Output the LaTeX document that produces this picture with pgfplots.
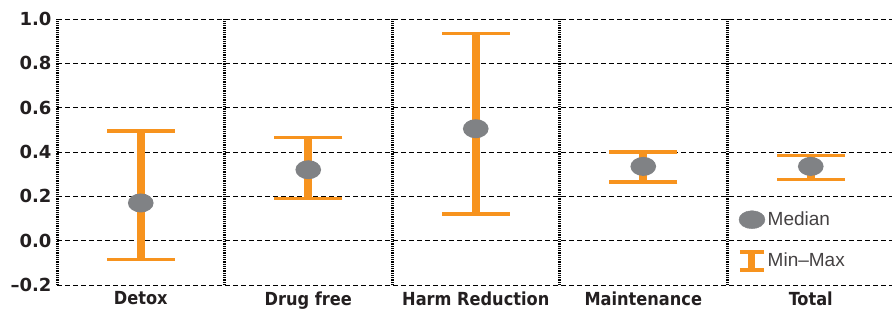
\documentclass[border=0pt]{standalone}
\usepackage{pgfplots}
\pgfplotsset{compat=1.18}
\usepackage{pgfplotstable}
\usepackage{fontspec}
\setmainfont{Liberation Sans}
\newfontfamily\tickfont{DejaVu Sans}
\newfontfamily\catfont{DejaVu Sans Condensed}
\definecolor{myorange}{HTML}{F7931E}
\definecolor{mygray}{HTML}{808285}
\definecolor{mytext}{HTML}{231F20}
\pgfdeclareplotmark{ellipse}{%
  \pgfpathellipse{\pgfpointorigin}{\pgfqpoint{1.35\pgfplotmarksize}{0pt}}{\pgfqpoint{0pt}{\pgfplotmarksize}}%
  \pgfusepathqfill}
\pgfplotstableread{
x med min max
0 0.170 -0.085 0.495
1 0.320 0.190 0.465
2 0.505 0.120 0.935
3 0.335 0.265 0.400
4 0.335 0.275 0.385
}\datatab
\begin{document}
\begin{tikzpicture}
\begin{axis}[
  scale only axis,
  width=835pt, height=266pt,
  xmin=-0.5, xmax=4.485,
  ymin=-0.2, ymax=1.0,
  axis line style={draw=none},
  xtick={0,1,2,3,4},
  xticklabels={Detox, Drug free, Harm Reduction, Maintenance, Total},
  major tick length=0pt,
  minor tick length=0pt,
  minor xtick={-0.5,0.5,1.5,2.5,3.5},
  xminorgrids=true,
  minor x grid style={black, line width=3pt, dash pattern=on 1pt off 0.8pt},
  ytick={-0.2,0,0.2,0.4,0.6,0.8,1.0},
  yticklabels={–0.2,0.0,0.2,0.4,0.6,0.8,1.0},
  ymajorgrids=true,
  major y grid style={black, line width=0.9pt, dash pattern=on 4.5pt off 3.5pt},
  xticklabel style={font=\catfont\bfseries\fontsize{18}{18}\selectfont, text=mytext, anchor=north, yshift=-3pt},
  yticklabel style={font=\tickfont\bfseries\fontsize{18}{18}\selectfont, text=mytext, anchor=east, xshift=-2pt},
  legend style={draw=none, fill=none, at={(rel axis cs:0.812,0.29)}, anchor=north west,
    font=\fontsize{19}{19}\selectfont, text=mytext!85, row sep=19pt,
    legend cell align=left},
  clip=false,
]
\addlegendimage{legend image code/.code={
  \fill[mygray] (0.28cm,0) ellipse [x radius=13pt, y radius=9pt];}}
\addlegendentry{Median}
\addlegendimage{legend image code/.code={
  \draw[myorange, line width=7pt] (0.28cm,-9pt) -- (0.28cm,9pt);
  \draw[myorange, line width=3.5pt] (0.28cm-12pt,-9pt) -- (0.28cm+12pt,-9pt);
  \draw[myorange, line width=3.5pt] (0.28cm-12pt,9pt) -- (0.28cm+12pt,9pt);}}
\addlegendentry{Min–Max}
% stems
\addplot[draw=none, mark=none, forget plot,
  error bars/.cd, y dir=both, y explicit, error mark=none,
  error bar style={myorange, line width=8pt, line cap=butt}]
  table[x=x, y=med, y error plus expr=\thisrow{max}-\thisrow{med}, y error minus expr=\thisrow{med}-\thisrow{min}] {\datatab};
% caps
\addplot[only marks, mark=-, mark size=34pt, forget plot, mark options={myorange, line width=3.5pt}]
  table[x=x, y=min] {\datatab};
\addplot[only marks, mark=-, mark size=34pt, forget plot, mark options={myorange, line width=3.5pt}]
  table[x=x, y=max] {\datatab};
% medians
\addplot[only marks, mark=ellipse, mark size=9.5pt, forget plot, mark options={mygray, fill=mygray}]
  table[x=x, y=med] {\datatab};
\coordinate (bl) at (rel axis cs:0,0);
\coordinate (tr) at (rel axis cs:1,1);
\end{axis}
\pgfresetboundingbox
\path ([shift={(-57pt,-25pt)}]bl) rectangle ([shift={(0pt,19pt)}]tr);
\end{tikzpicture}
\end{document}
